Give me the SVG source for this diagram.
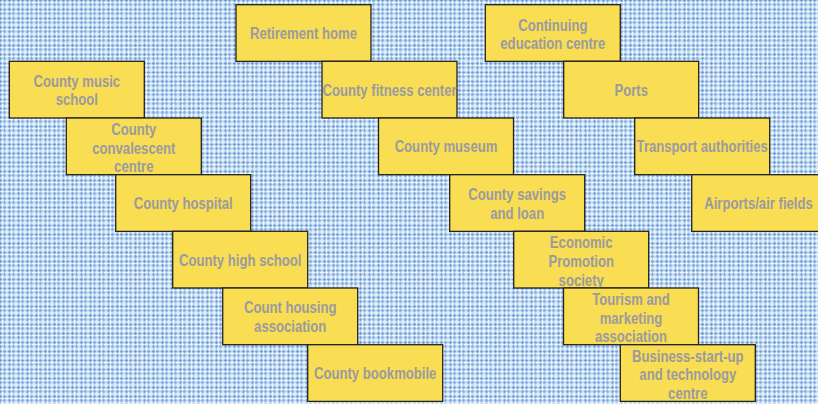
<svg xmlns="http://www.w3.org/2000/svg" width="818" height="404" viewBox="0 0 818 404">
<defs>
<pattern id="plaid" x="0" y="0" width="9" height="9" patternUnits="userSpaceOnUse">
<rect width="9" height="9" fill="#b3cfec"/>
<rect x="0" y="0" width="1" height="9" fill="#4f8ccc" opacity="0.6"/>
<rect x="0" y="0" width="9" height="1" fill="#4f8ccc" opacity="0.6"/>
<rect x="2" y="0" width="1" height="9" fill="#ffffff" opacity="0.7"/>
<rect x="0" y="2" width="9" height="1" fill="#ffffff" opacity="0.7"/>
<rect x="4" y="0" width="1" height="9" fill="#6fa3d9" opacity="0.5"/>
<rect x="0" y="4" width="9" height="1" fill="#6fa3d9" opacity="0.5"/>
<rect x="6" y="0" width="2" height="9" fill="#ffffff" opacity="0.45"/>
<rect x="0" y="6" width="9" height="2" fill="#ffffff" opacity="0.45"/>
</pattern>
</defs>
<style>
.box{fill:#f9dd52;stroke:#222;stroke-width:1.3}
.lbl{font-family:"Liberation Sans",Arial,sans-serif;font-weight:bold;font-size:16px;fill:#9a9ba1;text-anchor:middle}
</style>
<rect width="818" height="404" fill="url(#plaid)"/>
<g id="connectors"/>
<g id="retirement-home"><rect class="box" x="236" y="4.7" width="135" height="56.7"/><text class="lbl" transform="matrix(.82 0 0 1 303.5 0)" y="39">Retirement home</text></g>
<g id="continuing-education"><rect class="box" x="485.3" y="4.7" width="135" height="56.7"/><text class="lbl" transform="matrix(.82 0 0 1 552.8 0)" y="30.6">Continuing</text><text class="lbl" transform="matrix(.82 0 0 1 552.8 0)" y="49.3">education centre</text></g>
<g id="music-school"><rect class="box" x="9.3" y="61.3" width="135" height="56.7"/><text class="lbl" transform="matrix(.82 0 0 1 76.8 0)" y="86.7">County music</text><text class="lbl" transform="matrix(.82 0 0 1 76.8 0)" y="105.4">school</text></g>
<g id="fitness-center"><rect class="box" x="322" y="61.3" width="135" height="56.7"/><text class="lbl" transform="matrix(.82 0 0 1 389.5 0)" y="95.7">County fitness center</text></g>
<g id="ports"><rect class="box" x="563.7" y="61.3" width="135" height="56.7"/><text class="lbl" transform="matrix(.82 0 0 1 631.2 0)" y="95.7">Ports</text></g>
<g id="convalescent-centre"><rect class="box" x="66.3" y="118" width="135" height="56.7"/><text class="lbl" transform="matrix(.82 0 0 1 133.8 0)" y="134.9">County</text><text class="lbl" transform="matrix(.82 0 0 1 133.8 0)" y="153.6">convalescent</text><text class="lbl" transform="matrix(.82 0 0 1 133.8 0)" y="172.3">centre</text></g>
<g id="museum"><rect class="box" x="378.5" y="118" width="135" height="56.7"/><text class="lbl" transform="matrix(.82 0 0 1 446 0)" y="152.4">County museum</text></g>
<g id="transport-authorities"><rect class="box" x="634.7" y="118" width="135" height="56.7"/><text class="lbl" transform="matrix(.82 0 0 1 702.2 0)" y="152.4">Transport authorities</text></g>
<g id="hospital"><rect class="box" x="115.7" y="174.7" width="135" height="56.7"/><text class="lbl" transform="matrix(.82 0 0 1 183.2 0)" y="209.1">County hospital</text></g>
<g id="savings-loan"><rect class="box" x="449.7" y="174.7" width="135" height="56.7"/><text class="lbl" transform="matrix(.82 0 0 1 517.2 0)" y="200.1">County savings</text><text class="lbl" transform="matrix(.82 0 0 1 517.2 0)" y="218.8">and loan</text></g>
<g id="airports"><rect class="box" x="691.7" y="174.7" width="135" height="56.7"/><text class="lbl" transform="matrix(.82 0 0 1 758.5 0)" y="209.1">Airports/air fields</text></g>
<g id="high-school"><rect class="box" x="172.7" y="231.3" width="135" height="56.7"/><text class="lbl" transform="matrix(.82 0 0 1 240.2 0)" y="265.7">County high school</text></g>
<g id="economic-promotion"><rect class="box" x="513.7" y="231.3" width="135" height="56.7"/><text class="lbl" transform="matrix(.82 0 0 1 581.2 0)" y="248.2">Economic</text><text class="lbl" transform="matrix(.82 0 0 1 581.2 0)" y="266.9">Promotion</text><text class="lbl" transform="matrix(.82 0 0 1 581.2 0)" y="285.6">society</text></g>
<g id="housing-association"><rect class="box" x="222.7" y="288" width="135" height="56.7"/><text class="lbl" transform="matrix(.82 0 0 1 290.2 0)" y="313.4">Count housing</text><text class="lbl" transform="matrix(.82 0 0 1 290.2 0)" y="332.1">association</text></g>
<g id="tourism-marketing"><rect class="box" x="563.5" y="288" width="135" height="56.7"/><text class="lbl" transform="matrix(.82 0 0 1 631 0)" y="304.9">Tourism and</text><text class="lbl" transform="matrix(.82 0 0 1 631 0)" y="323.6">marketing</text><text class="lbl" transform="matrix(.82 0 0 1 631 0)" y="342.3">association</text></g>
<g id="bookmobile"><rect class="box" x="307.7" y="344.7" width="135" height="56.7"/><text class="lbl" transform="matrix(.82 0 0 1 375.2 0)" y="379.1">County bookmobile</text></g>
<g id="business-technology"><rect class="box" x="620.3" y="344.7" width="135" height="56.7"/><text class="lbl" transform="matrix(.82 0 0 1 687.8 0)" y="361.6">Business-start-up</text><text class="lbl" transform="matrix(.82 0 0 1 687.8 0)" y="380.3">and technology</text><text class="lbl" transform="matrix(.82 0 0 1 687.8 0)" y="399">centre</text></g>
</svg>
